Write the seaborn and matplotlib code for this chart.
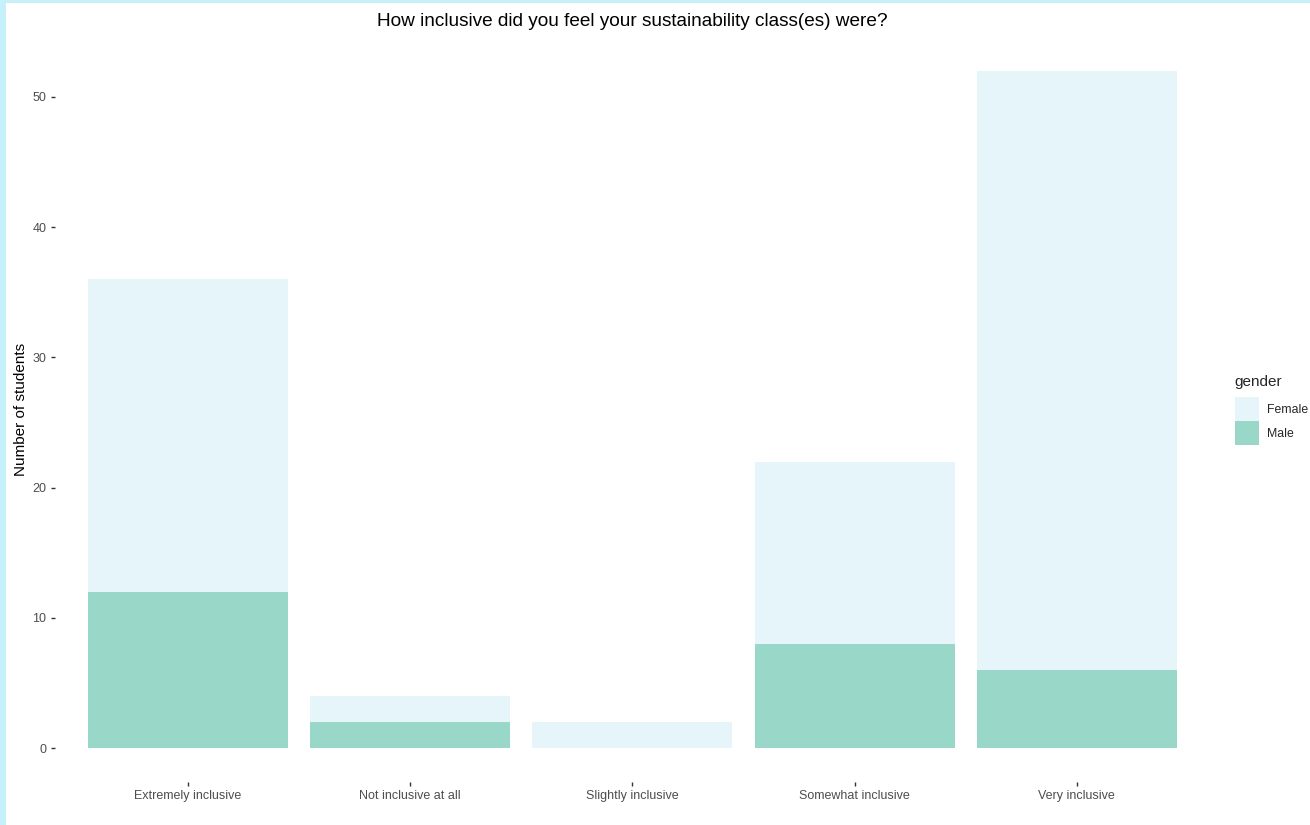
import numpy as np
import pandas as pd
import matplotlib
matplotlib.use('Agg')
import matplotlib.pyplot as plt
from matplotlib.patches import Rectangle
import seaborn as sns

categories = ['Extremely inclusive', 'Not inclusive at all', 'Slightly inclusive',
              'Somewhat inclusive', 'Very inclusive']
female = [24, 2, 2, 14, 46]
male = [12, 2, 0, 8, 6]

female_col = '#E5F5F9'
male_col = '#99D8C9'

df = pd.DataFrame({'answer': categories, 'Female': female, 'Male': male})
df['total'] = df['Female'] + df['Male']

sns.set_style('white')
plt.rcParams['font.family'] = ['Liberation Sans', 'DejaVu Sans']

fig = plt.figure(figsize=(13.1, 8.25), dpi=100)
fig.patch.set_facecolor('#C6F1FB')
fig.add_artist(Rectangle((6 / 1310, 0), 1, 1 - 3 / 825, transform=fig.transFigure,
                         facecolor='white', edgecolor='none', zorder=-1))
ax = fig.add_axes([0.0417, 0.0521, 0.882, 0.9031])
ax.set_facecolor('none')

# stacked bars: total in female colour, male on the bottom
sns.barplot(data=df, x='answer', y='total', color=female_col, width=0.9,
            saturation=1, ax=ax, edgecolor='none')
sns.barplot(data=df, x='answer', y='Male', color=male_col, width=0.9,
            saturation=1, ax=ax, edgecolor='none')

ax.set_xlim(-0.6, 4.6)
ax.set_ylim(-2.6, 54.6)
ax.set_yticks([0, 10, 20, 30, 40, 50])
for s in ax.spines.values():
    s.set_visible(False)
ax.tick_params(axis='both', bottom=True, left=True, length=3, width=1.0, color='#333333',
               labelcolor='#4D4D4D', labelsize=9, pad=3)
ax.tick_params(axis='x', pad=3)
ax.set_xlabel('')
ax.set_ylabel('Number of students', fontsize=11, color='black', labelpad=3)

fig.text(632 / 1310, 1 - 22 / 825, 'How inclusive did you feel your sustainability class(es) were?',
         ha='center', va='center', fontsize=13.7, color='black')

# legend
fig.text(1234 / 1310, 1 - 382 / 825, 'gender', ha='left', va='center', fontsize=11)
for i, (lab, col) in enumerate([('Female', female_col), ('Male', male_col)]):
    y0 = 397 + 24 * i
    fig.add_artist(Rectangle((1235 / 1310, 1 - (y0 + 24) / 825), 24 / 1310, 24 / 825,
                             transform=fig.transFigure, facecolor=col, edgecolor='none'))
    fig.text(1267 / 1310, 1 - (y0 + 13) / 825, lab, ha='left', va='center', fontsize=8.8)

fig.savefig('out.png', dpi=100)
